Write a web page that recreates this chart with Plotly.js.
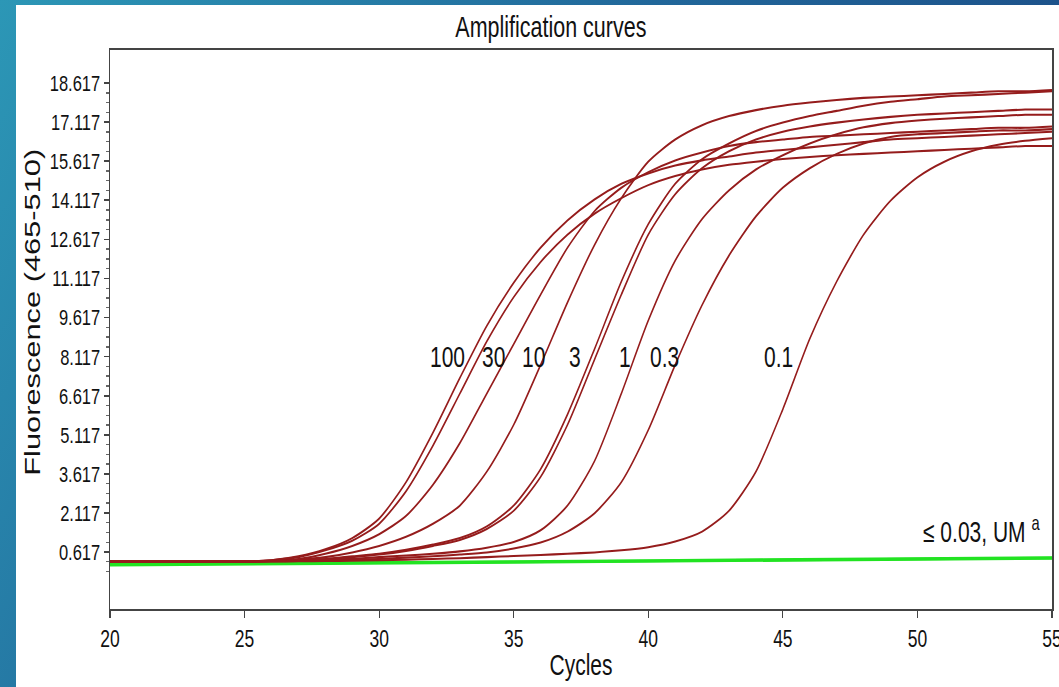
<!DOCTYPE html>
<html>
<head>
<meta charset="utf-8">
<script src="https://cdn.plot.ly/plotly-3.0.1.min.js"></script>
<style>
  html, body { margin:0; padding:0; width:1059px; height:687px; overflow:hidden;
    background: linear-gradient(120deg, #2c97b6 0%, #21679a 45%, #193f7c 100%); }
  #chart { position:absolute; left:16px; top:5px; width:1043px; height:498px;
    transform: scaleY(1.3695); transform-origin: 0 0; background:#fff; }
</style>
</head>
<body>
<div id="chart"></div>
<script>
// ---- data ----
const cycles = [20,21,22,23,24,25,26,27,28,29,30,31,32,33,34,35,36,37,38,39,40,41,42,43,44,45,46,47,48,49,50,51,52,53,54,55];

const conc100a = [0.25,0.25,0.25,0.25,0.25,0.25, 0.30,0.45,0.72,1.15,1.90, 3.30,5.20,7.30,9.30,10.95, 12.30,13.35,14.15,14.75,15.15, 15.45,15.65,15.80,15.95,16.05, 16.15,16.25,16.35,16.45,16.50, 16.55,16.60,16.65,16.70,16.75];
const conc100b = [0.25,0.25,0.25,0.25,0.25,0.25, 0.30,0.42,0.68,1.05,1.70, 2.95,4.70,6.70,8.70,10.40, 11.75,12.80,13.60,14.20,14.70, 15.05,15.30,15.48,15.60,15.70, 15.78,15.85,15.90,15.95,16.00, 16.05,16.10,16.15,16.20,16.20];
const conc30   = [0.25,0.25,0.25,0.25,0.25,0.25, 0.28,0.35,0.55,0.85,1.30, 2.00,3.20,4.80,6.70,8.60, 10.50,12.30,13.70,14.60,15.20, 15.65,15.95,16.20,16.35,16.45, 16.55,16.60,16.65,16.70,16.75, 16.80,16.85,16.90,16.90,16.95];
const conc10   = [0.25,0.25,0.25,0.25,0.25,0.25, 0.27,0.32,0.42,0.60,0.85, 1.20,1.70,2.40,3.70,5.50, 7.80,10.20,12.40,14.20,15.60, 16.45,17.00,17.35,17.58,17.75, 17.87,17.97,18.05,18.10,18.15, 18.20,18.25,18.30,18.30,18.35];
const conc3a   = [0.25,0.25,0.25,0.25,0.25,0.25, 0.27,0.30,0.35,0.45,0.55, 0.70,0.90,1.15,1.60,2.40, 3.80,5.90,8.40,11.00,13.20, 14.75,15.70,16.30,16.78,17.10, 17.35,17.55,17.75,17.90,18.00, 18.10,18.15,18.20,18.25,18.30];
const conc3b   = [0.25,0.25,0.25,0.25,0.25,0.25, 0.27,0.30,0.34,0.42,0.52, 0.66,0.85,1.08,1.50,2.20, 3.50,5.50,8.00,10.50,12.80, 14.35,15.35,16.00,16.45,16.75, 16.95,17.10,17.22,17.32,17.40, 17.45,17.50,17.55,17.60,17.60];
const conc1    = [0.25,0.25,0.25,0.25,0.25,0.25, 0.26,0.28,0.32,0.36,0.42, 0.48,0.55,0.64,0.78,1.00, 1.45,2.40,4.10,6.70,9.50, 11.80,13.40,14.50,15.30,15.85, 16.30,16.65,16.92,17.08,17.18, 17.25,17.30,17.35,17.40,17.40];
const conc03   = [0.25,0.25,0.25,0.25,0.25,0.25, 0.26,0.27,0.29,0.32,0.35, 0.40,0.45,0.52,0.60,0.75, 0.98,1.40,2.10,3.30,5.30, 7.80,10.10,12.00,13.50,14.60, 15.35,15.90,16.30,16.55,16.65, 16.70,16.75,16.80,16.80,16.85];
const conc01   = [0.25,0.25,0.25,0.25,0.25,0.25, 0.25,0.26,0.27,0.28,0.30, 0.32,0.35,0.38,0.42,0.46, 0.50,0.55,0.60,0.68,0.80, 1.02,1.40,2.20,3.70,6.10, 8.80,11.00,12.80,14.10,15.00, 15.60,16.00,16.25,16.40,16.50];

const negCycles = [20,25,30,35,40,45,50,55];
const negA = [0.15,0.17,0.20,0.24,0.28,0.32,0.36,0.40];
const negB = [0.12,0.15,0.18,0.22,0.26,0.30,0.34,0.38];

const positiveSeries = [conc100a, conc100b, conc30, conc10, conc3a, conc3b, conc1, conc03, conc01];
const positiveNames  = ['100','100','30','10','3','3','1','0.3','0.1'];

const labelText   = ['100','30','10','3','1','0.3','0.1'];
const labelCycle  = [32.55,34.26,35.72,37.28,39.14,40.59,44.83];
const labelLevel  = 8.117;

const yTickVals = [0.617,2.117,3.617,5.117,6.617,8.117,9.617,11.117,12.617,14.117,15.617,17.117,18.617];
const xTickVals = [20,25,30,35,40,45,50,55];

// minor y ticks: four sub-intervals per labelled step, one extra below the first label
const yMinorVals = [];
for (let k = -2; k <= 48; k++) yMinorVals.push(+(0.617 + k * 0.375).toFixed(3));

// ---- traces ----
const traces = [];
[negA, negB].forEach(function(v){
  traces.push({x:negCycles, y:v, type:'scatter', mode:'lines', name:'≤ 0.03, UM',
    line:{color:'#22e322', width:2.2}, hoverinfo:'skip', showlegend:false});
});
positiveSeries.forEach(function(v, i){
  traces.push({x:cycles, y:v, type:'scatter', mode:'lines', name:positiveNames[i],
    line:{color:'#951c1c', width:1.5, shape:'spline', smoothing:0.7}, showlegend:false});
});

const FONT = 'Liberation Sans, Arial, Helvetica, sans-serif';
const annotations = labelText.map(function(t, i){
  return {x:labelCycle[i], y:labelLevel, xref:'x', yref:'y', text:t, showarrow:false,
    xanchor:'center', yanchor:'middle', font:{family:FONT, size:21, color:'#111'}};
});
annotations.push({x:54.62, y:1.46, xref:'x', yref:'y', text:'≤ 0.03, UM <sup>a</sup>', showarrow:false,
  xanchor:'right', yanchor:'middle', font:{family:FONT, size:21, color:'#111'}});
annotations.push({x:-0.0817, y:0.53, xref:'paper', yref:'paper', text:'Fluorescence (465-510)', showarrow:false,
  textangle:-90, xanchor:'center', yanchor:'middle', font:{family:FONT, size:22.5, color:'#111'}});

const layout = {
  width:1043, height:498,
  margin:{l:94, r:7, t:33, b:57},
  paper_bgcolor:'#ffffff', plot_bgcolor:'#ffffff',
  showlegend:false,
  title:{text:'Amplification curves', x:0.468, xref:'paper', xanchor:'center',
         y:0.968, yref:'container', yanchor:'middle',
         font:{family:FONT, size:21.5, color:'#111'}},
  xaxis:{range:[20,55], tickvals:xTickVals, ticks:'outside', ticklen:5, tickwidth:1.2, tickcolor:'#444',
         ticklabeloverflow:'allow',
         showline:true, mirror:true, linecolor:'#444', linewidth:1.5, showgrid:false, zeroline:false,
         tickfont:{family:FONT, size:17.5, color:'#111'},
         title:{text:'Cycles', standoff:3, font:{family:FONT, size:21, color:'#111'}}},
  yaxis:{range:[-1.57,19.88], tickvals:yTickVals, tickformat:'.3f', ticks:'outside', ticklen:5, tickwidth:1.2, tickcolor:'#444',
         minor:{tickmode:'array', tickvals:yMinorVals, ticks:'outside', ticklen:3, tickcolor:'#666', tickwidth:1},
         showline:true, mirror:true, linecolor:'#444', linewidth:1.5, showgrid:false, zeroline:false,
         tickfont:{family:FONT, size:16.5, color:'#111'}},
  annotations:annotations
};

Plotly.newPlot('chart', traces, layout, {displayModeBar:false, staticPlot:true});
</script>
</body>
</html>
